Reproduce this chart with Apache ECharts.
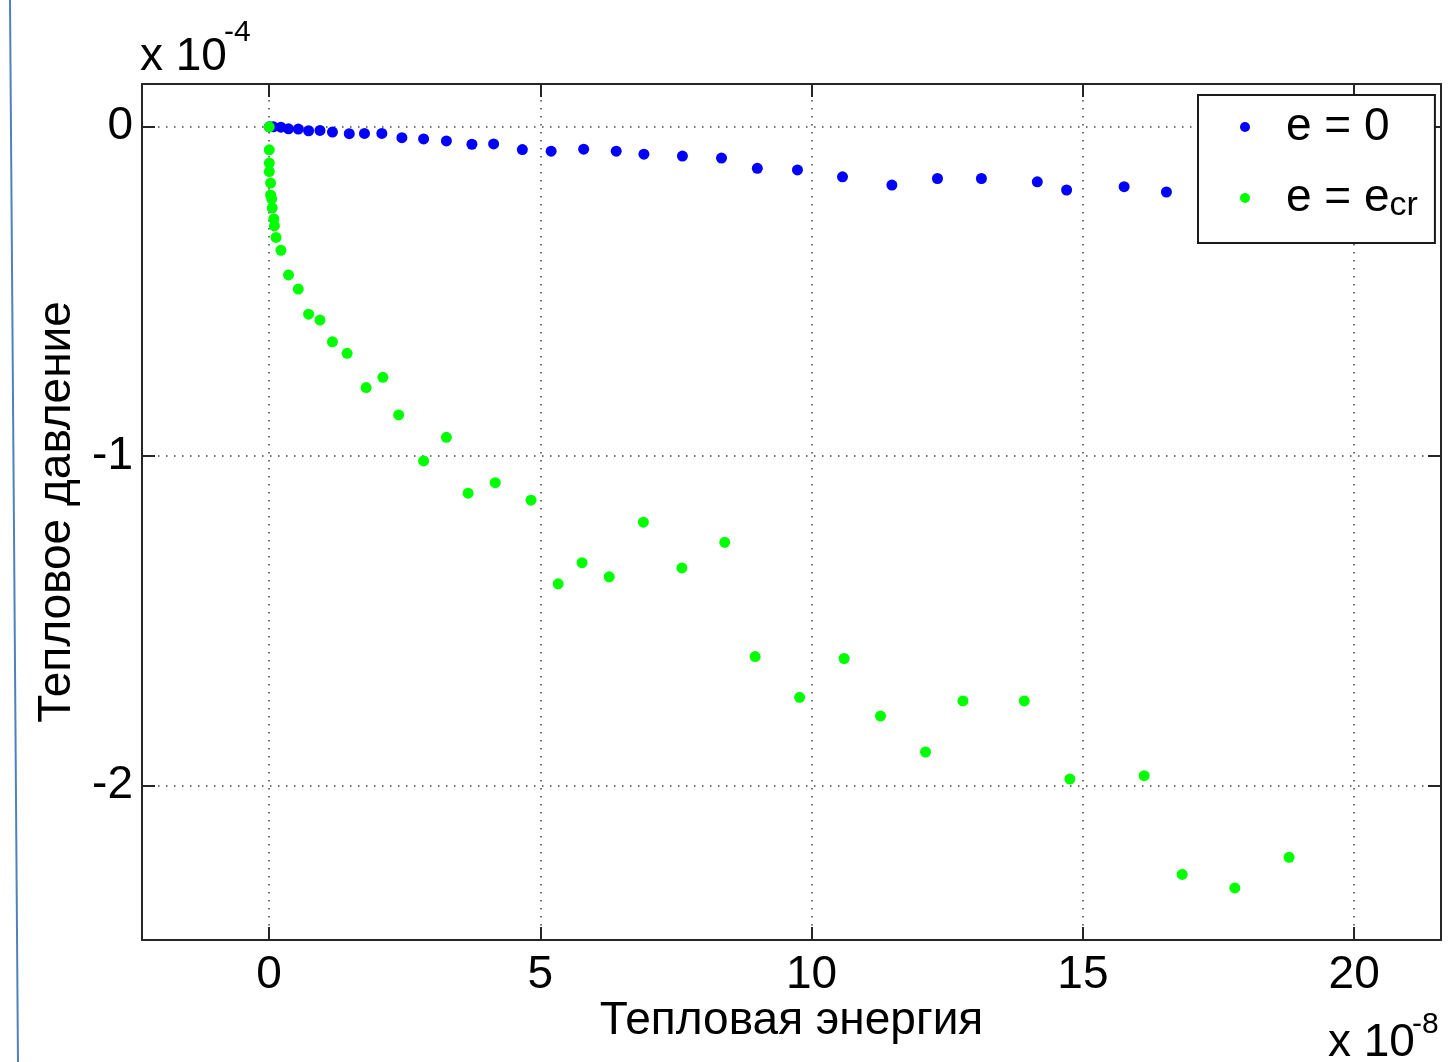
<!DOCTYPE html>
<html>
<head>
<meta charset="utf-8">
<title>Тепловое давление</title>
<script src="https://cdn.jsdelivr.net/npm/echarts@6/dist/echarts.min.js"></script>
<style>
html, body { margin: 0; padding: 0; background: #fff; }
#chart { width: 1448px; height: 1062px; }
</style>
</head>
<body>
<div id="chart"></div>
<script>
// values, x in 1e-8, y in 1e-4
const energyE0 = [0.005, 0.08, 0.22, 0.36, 0.54, 0.73, 0.94, 1.17, 1.48, 1.76, 2.08, 2.45, 2.85, 3.27, 3.74, 4.14, 4.67, 5.2, 5.8, 6.4, 6.91, 7.62, 8.34, 9.0, 9.74, 10.57, 11.48, 12.32, 13.13, 14.16, 14.7, 15.76, 16.54];
const pressureE0 = [0, 0, -0.001, -0.006, -0.007, -0.012, -0.011, -0.016, -0.021, -0.02, -0.02, -0.033, -0.037, -0.043, -0.053, -0.052, -0.069, -0.074, -0.068, -0.074, -0.083, -0.089, -0.095, -0.126, -0.131, -0.152, -0.177, -0.157, -0.157, -0.167, -0.192, -0.182, -0.198];

const energyEcr = [0.005, 0.006, 0.006, 0.006, 0.03, 0.03, 0.05, 0.06, 0.09, 0.1, 0.13, 0.22, 0.36, 0.54, 0.73, 0.94, 1.17, 1.44, 1.79, 2.1, 2.39, 2.85, 3.27, 3.67, 4.17, 4.83, 5.33, 5.77, 6.27, 6.9, 7.61, 8.4, 8.96, 9.78, 10.6, 11.27, 12.1, 12.79, 13.92, 14.76, 16.13, 16.83, 17.8, 18.8];
const pressureEcr = [0, -0.07, -0.11, -0.136, -0.171, -0.207, -0.219, -0.247, -0.28, -0.301, -0.336, -0.375, -0.45, -0.493, -0.569, -0.587, -0.653, -0.688, -0.792, -0.761, -0.875, -1.015, -0.943, -1.113, -1.081, -1.134, -1.388, -1.324, -1.367, -1.201, -1.34, -1.262, -1.609, -1.733, -1.615, -1.79, -1.899, -1.744, -1.744, -1.981, -1.971, -2.271, -2.312, -2.219];

const xTicks = [0, 5, 10, 15, 20];
const yTicks = [-2, -1, 0];
const seriesNames = ['e0', 'ecr'];
const legendLabels = { e0: 'e = 0', ecr: 'e = e{sub|cr}' };

const font = "'Liberation Sans', Arial, sans-serif";
const frame = '#262626';

function pairs(xs, ys) {
  return xs.map((x, i) => [x, ys[i]]);
}

const tickStyle = { color: frame, width: 2 };
const gridDots = { color: '#444', width: 1.5, type: [1.5, 6.5] };

const chart = echarts.init(document.getElementById('chart'));
chart.setOption({
  animation: false,
  backgroundColor: '#fff',
  textStyle: { fontFamily: font },
  grid: { left: 142, right: 7, top: 84, bottom: 122, outerBoundsMode: 'none' },
  legend: {
    orient: 'vertical',
    left: 1198,
    top: 95,
    data: seriesNames,
    icon: 'circle',
    itemWidth: 72,
    itemHeight: 10,
    itemGap: 15,
    padding: [7, 17, 20, 42],
    backgroundColor: '#fff',
    borderColor: '#1a1a1a',
    borderWidth: 2,
    borderRadius: 0,
    formatter: (name) => legendLabels[name],
    textStyle: {
      fontSize: 46,
      lineHeight: 50,
      color: '#000',
      fontFamily: font,
      rich: {
        sub: { fontSize: 34, lineHeight: 34, verticalAlign: 'bottom', padding: [22, 0, 0, 0], color: '#000', fontFamily: font }
      }
    }
  },
  xAxis: [
    {
      type: 'value', position: 'bottom', min: -2.34, max: 21.6,
      name: 'Тепловая энергия', nameLocation: 'middle', nameGap: 58, nameMoveOverlap: false,
      nameTextStyle: { fontSize: 46, color: '#000', fontFamily: font },
      axisLine: { show: true, onZero: false, lineStyle: tickStyle },
      axisTick: { show: true, inside: true, length: 13, customValues: xTicks, lineStyle: tickStyle },
      axisLabel: { customValues: xTicks, fontSize: 46, color: '#000', margin: 12, fontFamily: font },
      splitLine: { show: true, lineStyle: gridDots }
    },
    {
      type: 'value', position: 'top', min: -2.34, max: 21.6,
      axisLine: { show: true, onZero: false, lineStyle: tickStyle },
      axisTick: { show: true, inside: true, length: 13, customValues: xTicks, lineStyle: tickStyle },
      axisLabel: { show: false },
      splitLine: { show: false }
    }
  ],
  yAxis: [
    {
      type: 'value', position: 'left', min: -2.47, max: 0.13,
      name: 'Тепловое давление', nameLocation: 'middle', nameGap: 62, nameRotate: 90, nameMoveOverlap: false,
      nameTextStyle: { fontSize: 46, color: '#000', fontFamily: font },
      axisLine: { show: true, onZero: false, lineStyle: tickStyle },
      axisTick: { show: true, inside: true, length: 13, customValues: yTicks, lineStyle: tickStyle },
      axisLabel: { customValues: yTicks, fontSize: 46, color: '#000', margin: 9, fontFamily: font },
      splitLine: { show: true, lineStyle: gridDots }
    },
    {
      type: 'value', position: 'right', min: -2.47, max: 0.13,
      axisLine: { show: true, onZero: false, lineStyle: tickStyle },
      axisTick: { show: true, inside: true, length: 13, customValues: yTicks, lineStyle: tickStyle },
      axisLabel: { show: false },
      splitLine: { show: false }
    }
  ],
  series: [
    {
      name: 'e0', type: 'scatter', symbol: 'circle', symbolSize: 11,
      itemStyle: { color: '#0000ff', opacity: 1 },
      data: pairs(energyE0, pressureE0)
    },
    {
      name: 'ecr', type: 'scatter', symbol: 'circle', symbolSize: 11,
      itemStyle: { color: '#00ff00', opacity: 1 },
      data: pairs(energyEcr, pressureEcr)
    }
  ],
  graphic: [
    { type: 'line', shape: { x1: 10, y1: 0, x2: 18, y2: 1062 }, style: { stroke: '#4f81bd', lineWidth: 2 } },
    { type: 'text', left: 140, top: 34, style: { text: 'x 10', fontSize: 46, fill: '#000', font: '46px ' + font } },
    { type: 'text', left: 224, top: 18, style: { text: '-4', fontSize: 30, fill: '#000', font: '30px ' + font } },
    { type: 'text', left: 1328, top: 1020, style: { text: 'x 10', fontSize: 46, fill: '#000', font: '46px ' + font } },
    { type: 'text', left: 1412, top: 1010, style: { text: '-8', fontSize: 30, fill: '#000', font: '30px ' + font } }
  ]
});
</script>
</body>
</html>
